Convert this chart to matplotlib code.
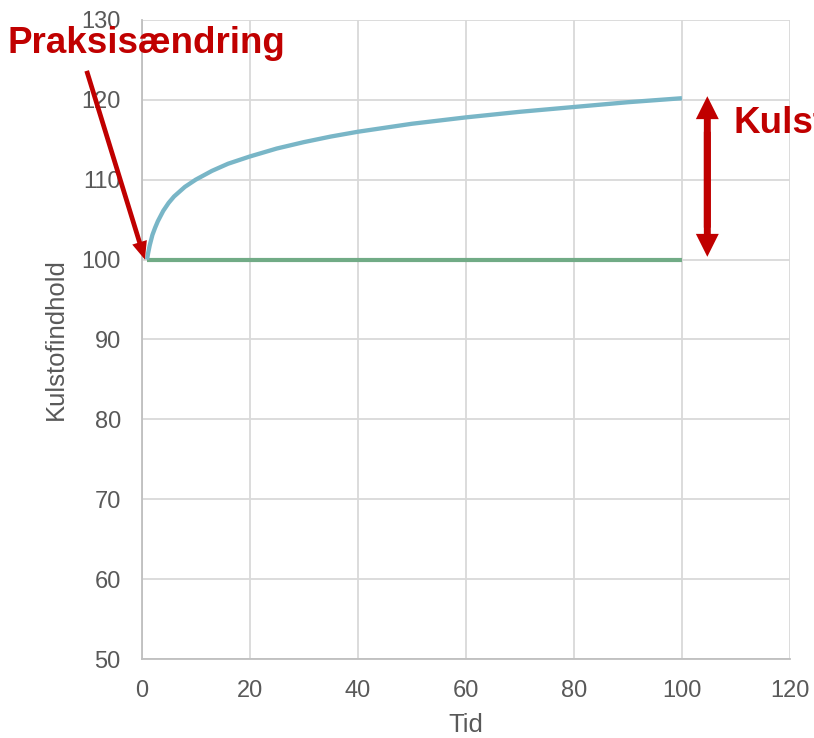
import matplotlib
matplotlib.use("Agg")
import matplotlib.pyplot as plt
from matplotlib.patches import FancyArrowPatch

plt.rcParams['font.family'] = ['Liberation Sans', 'DejaVu Sans']

# Data
tid = [1, 1.2, 1.5, 2, 2.5, 3, 4, 5, 6, 7, 8, 10, 13, 16, 20, 25, 30, 35, 40, 50, 60, 70, 80, 90, 100]
ny_praksis = [100, 100.8, 101.8, 103.1, 104.0, 104.8, 106.1, 107.1, 107.9, 108.5, 109.1, 110.0,
              111.1, 112.0, 112.9, 113.9, 114.7, 115.4, 116.0, 117.0, 117.8, 118.5, 119.1,
              119.7, 120.2]
ref_tid = [1, 100]
ref_niveau = [100, 100]

xticks = [0, 20, 40, 60, 80, 100, 120]
yticks = [50, 60, 70, 80, 90, 100, 110, 120, 130]

blue = '#79b6c7'
green = '#71ab86'
red = '#c00000'
grey_txt = '#595959'

fig = plt.figure(figsize=(8.14, 7.38), dpi=100)
ax = fig.add_axes([0.174, 0.107, 0.7965, 0.866])

ax.plot(tid, ny_praksis, color=blue, lw=3.1, solid_capstyle='butt', zorder=3)
ax.plot(ref_tid, ref_niveau, color=green, lw=3.0, solid_capstyle='butt', zorder=2)

ax.set_xlim(0, 120)
ax.set_ylim(50, 130)
ax.set_xticks(xticks)
ax.set_yticks(yticks)
ax.grid(True, color='#d9d9d9', lw=1.3)
ax.set_axisbelow(True)
for s in ['top', 'right']:
    ax.spines[s].set_visible(False)
for s in ['left', 'bottom']:
    ax.spines[s].set_color('#bfbfbf')
    ax.spines[s].set_linewidth(1.3)
ax.tick_params(length=0, labelsize=17, labelcolor=grey_txt)
ax.tick_params(axis='y', pad=15)
ax.tick_params(axis='x', pad=15)
ax.set_xlabel('Tid', fontsize=18.5, color=grey_txt, labelpad=8)
ax.set_ylabel('Kulstofindhold', fontsize=18.5, color=grey_txt, labelpad=10)

# Praksisændring arrow
arr1 = FancyArrowPatch(posA=fig.transFigure.transform((0.1065, 0.904)),
                       posB=ax.transData.transform((0.6, 100.0)),
                       transform=None,
                       arrowstyle='simple,head_length=13,head_width=11,tail_width=3.4',
                       mutation_scale=1, color=red, lw=0, shrinkA=0, shrinkB=0,
                       clip_on=False, zorder=5)
fig.patches.append(arr1)

# Double arrow (carbon change)
xa = 104.7
for ystart, ytip in ((104.0, 120.45), (116.0, 100.35)):
    a = FancyArrowPatch(posA=(xa, ystart), posB=(xa, ytip),
                        arrowstyle='simple,head_length=16.5,head_width=16.5,tail_width=5',
                        mutation_scale=1, color=red, lw=0, shrinkA=0, shrinkB=0,
                        clip_on=False, zorder=5)
    ax.add_patch(a)

fig.text(0.0098, 0.928, 'Praksisændring', fontsize=26.5, fontweight='bold',
         color=red, ha='left', va='baseline')
fig.text(0.9005, 0.8198, 'Kulstofændring', fontsize=26.5, fontweight='bold',
         color=red, ha='left', va='baseline')

fig.savefig('out.png', dpi=100)
